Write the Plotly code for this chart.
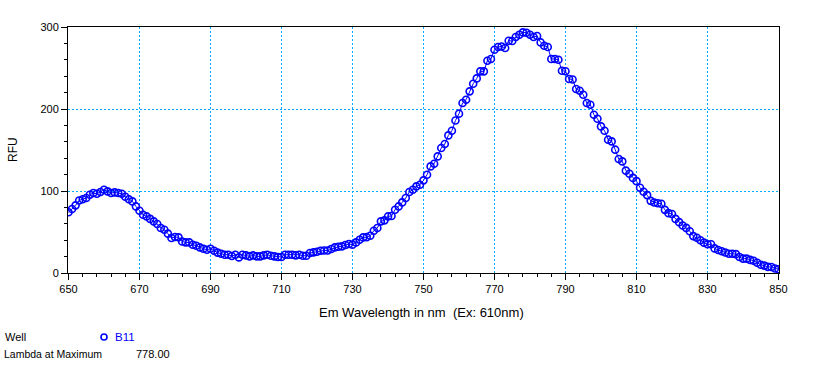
import plotly.graph_objects as go

# ---- data ----
wavelength = list(range(650, 851))
rfu = [
    74, 78, 82.5, 88.5, 90, 91.5, 95.5, 97.5, 96.7, 98.7,            # 650-659
    101.5, 99.5, 97.5, 98.3, 97.5, 96.7, 93, 90, 87.3, 81.2,          # 660-669
    76, 71, 69, 66, 63, 59.7, 54.8, 52.8, 48, 42.7,                   # 670-679
    43.9, 43.5, 38.5, 37.3, 37.3, 34.5, 33.3, 31.2, 29.6, 28.4,       # 680-689
    29.6, 27.2, 24.8, 23.5, 22.3, 22.3, 20.7, 22.3, 19, 22.3,         # 690-699
    21.5, 20.3, 21.5, 20.3, 20.3, 21.5, 22.3, 21, 20.3, 19.5,         # 700-709
    19.5, 22.3, 22.3, 22.3, 21.5, 22.3, 21, 21, 24.4, 25.2,           # 710-719
    26, 27.2, 27.5, 27.5, 29.2, 31.2, 32, 32.5, 34.1, 35.3,           # 720-729
    34.6, 37.3, 40.6, 43.4, 43.7, 45.5, 51.6, 54.9, 63, 64.2,         # 730-739
    69, 69.6, 77.2, 81.2, 86.1, 91.5, 98.8, 101.6, 105.6, 107.7,      # 740-749
    113, 119.9, 130, 133.3, 142.2, 152.4, 157.3, 167.8, 173.5, 186,   # 750-759
    194.3, 207.3, 211.3, 221.5, 230.8, 237.3, 245.9, 245.9, 258.9, 261,  # 760-769
    272.3, 275.6, 276.3, 274.4, 283.3, 282.9, 287.8, 290.6, 293.4, 293,  # 770-779
    290.6, 287.8, 289, 281.2, 277.2, 275.6, 261, 261, 260, 246.7,     # 780-789
    246, 236.6, 236, 224.4, 222.3, 217.4, 207.3, 205.2, 193, 188.2,   # 790-799
    178.8, 173.5, 162.6, 160.5, 150.4, 139, 136.1, 124.8, 121, 116,   # 800-809
    112, 104, 99, 95, 88, 86, 85, 84.5, 77, 73,                       # 810-819
    72, 66, 62, 58, 55, 51, 45, 43, 40, 37,                           # 820-829
    35, 35, 30, 28, 26.5, 25, 23.5, 23.5, 23, 19.5,                   # 830-839
    17.5, 17.5, 16, 15, 12.5, 10, 9, 7.5, 7.3, 5.5,                   # 840-849
    4.5,                                                              # 850
]
x_ticks = [650, 670, 690, 710, 730, 750, 770, 790, 810, 830, 850]
y_ticks = [0, 100, 200, 300]
well_name = "B11"
lambda_max = "778.00"

# ---- layout geometry (pixels) ----
W, H = 819, 391
L, R, T, B = 68, 779, 27, 273          # plot area 711 x 246 px
X_PX_PER_UNIT = 710 / 200              # 200 nm spans 710 px
X_PAD = 0.5 / X_PX_PER_UNIT            # half-pixel pad so vertical grid lines fall on pixel centres
FONT = "Liberation Sans, Arial, sans-serif"
BLUE = "#0000ff"
GRID = "#00aaff"


def px(xp):
    return (xp - L) / (R - L)


def py(yp):
    return (B - yp) / (B - T)


fig = go.Figure()
fig.add_trace(go.Scatter(
    x=wavelength, y=rfu, mode="lines+markers",
    line=dict(color=BLUE, width=1),
    marker=dict(symbol="circle-open", size=7, color=BLUE, line=dict(width=1.6, color=BLUE)),
    showlegend=False, hoverinfo="x+y",
))

axis_common = dict(
    showline=True, linecolor="black", linewidth=1, mirror=True,
    ticks="outside", ticklen=6, tickcolor="black", tickwidth=1,
    showgrid=True, gridcolor=GRID, gridwidth=1, griddash="2px,2px",
    zeroline=False, tickfont=dict(family=FONT, size=11, color="black"),
)

fig.update_xaxes(
    range=[650 - X_PAD, 850 + X_PAD], tickvals=x_ticks, ticktext=[str(v) for v in x_ticks],
    minor=dict(dtick=4, tick0=650, ticks="outside", ticklen=3, tickcolor="black", showgrid=False),
    **axis_common,
)
fig.update_yaxes(
    range=[0, 300], tickvals=y_ticks, ticktext=[str(v) for v in y_ticks],
    minor=dict(dtick=20, tick0=0, ticks="outside", ticklen=3, tickcolor="black", showgrid=False),
    **axis_common,
)

ann_font = dict(family=FONT, size=11, color="black")
annotations = [
    dict(text="Em Wavelength in nm  (Ex: 610nm)", x=px(421), y=py(312), xanchor="center", yanchor="middle",
         font=dict(family=FONT, size=13, color="black")),
    dict(text="RFU", x=px(13), y=py(150), xanchor="center", yanchor="middle", textangle=-90,
         font=dict(family=FONT, size=12, color="black")),
    dict(text="Well", x=px(3), y=py(337), xanchor="left", yanchor="middle", font=ann_font),
    dict(text=well_name, x=px(113), y=py(337), xanchor="left", yanchor="middle",
         font=dict(family=FONT, size=11.5, color=BLUE)),
    dict(text="Lambda at Maximum", x=px(2), y=py(354), xanchor="left", yanchor="middle",
         font=dict(family=FONT, size=10.5, color="black")),
    dict(text=lambda_max, x=px(134), y=py(354), xanchor="left", yanchor="middle", font=ann_font),
]
for a in annotations:
    a.update(xref="paper", yref="paper", showarrow=False)

fig.update_layout(
    width=W, height=H,
    margin=dict(l=L, r=W - R, t=T, b=H - B),
    paper_bgcolor="white", plot_bgcolor="white",
    annotations=annotations,
    shapes=[dict(type="circle", xref="paper", yref="paper",
                 x0=px(101), x1=px(107), y0=py(340), y1=py(334),
                 line=dict(color=BLUE, width=1.6))],
    font=dict(family=FONT, size=11, color="black"),
)

fig.write_html("out.html", config={"displayModeBar": False},
               post_script="document.body.style.margin='0';")
